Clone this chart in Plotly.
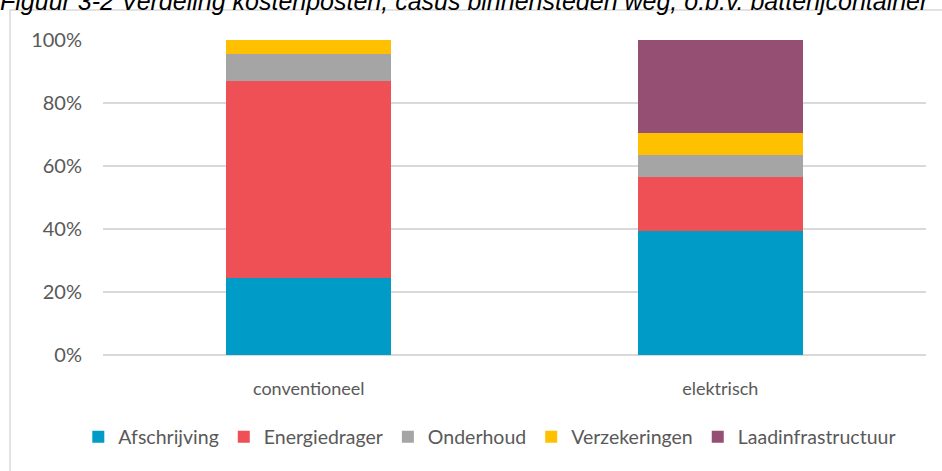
import plotly.graph_objects as go

categories = ["conventioneel", "elektrisch"]
afschrijving = [0.243, 0.395]
energiedrager = [0.628, 0.170]
onderhoud = [0.086, 0.070]
verzekeringen = [0.043, 0.069]
laadinfrastructuur = [0.0, 0.296]

series = [
    ("Afschrijving", afschrijving, "#009CC7"),
    ("Energiedrager", energiedrager, "#EF5055"),
    ("Onderhoud", onderhoud, "#A5A5A5"),
    ("Verzekeringen", verzekeringen, "#FFC000"),
    ("Laadinfrastructuur", laadinfrastructuur, "#954F72"),
]

fig = go.Figure()
for name, vals, col in series:
    fig.add_trace(go.Bar(x=categories, y=vals, name=name, marker_color=col,
                         marker_line_width=0, width=0.4))

font_fam = "Lato, Open Sans, sans-serif"
L, T, R, B = 103, 40, 16, 116
PW, PH = 942 - L - R, 471 - T - B
fig.update_layout(
    barmode="stack",
    width=942, height=471,
    margin=dict(l=L, r=R, t=T, b=B, autoexpand=False),
    paper_bgcolor="white", plot_bgcolor="white",
    font=dict(family=font_fam, color="#595959", size=18),
    showlegend=True,
    legend=dict(orientation="h", x=0.47, xanchor="center", y=(355 - 437) / PH, yanchor="middle",
                font=dict(size=19.5, color="#595959"), traceorder="normal",
                itemwidth=30, itemsizing="constant", tracegroupgap=0),
    xaxis=dict(showgrid=False, showline=False, ticks="", ticklabelstandoff=21,
               tickfont=dict(size=18, color="#595959")),
    yaxis=dict(range=[0, 1], tickvals=[0, 0.2, 0.4, 0.6, 0.8, 1.0], tickformat=".0%",
               showgrid=True, gridcolor="#D9D9D9", gridwidth=1.5, zeroline=True,
               zerolinecolor="#D9D9D9", zerolinewidth=1.5, showline=False,
               tickfont=dict(size=20, color="#595959"), ticks="", ticklabelstandoff=20),
)
fig.add_shape(type="rect", xref="paper", yref="paper",
              x0=(10 - L) / PW, x1=1.1, y0=-0.6, y1=1 + (T - 10) / PH,
              line=dict(color="#D9D9D9", width=1.5), fillcolor="rgba(0,0,0,0)", layer="below")
fig.add_annotation(text="Figuur 3-2 Verdeling kostenposten, casus binnensteden weg, o.b.v. batterijcontainer",
                   xref="paper", yref="paper", x=(-2 - L) / PW, xanchor="left",
                   y=1 + (T - 1) / PH, yanchor="middle", showarrow=False,
                   font=dict(family="Liberation Sans, Arial, sans-serif", size=25, color="#000000", style="italic"))
fig.write_html("out.html", config={"displayModeBar": False},
               post_script="document.body.style.margin='0';document.body.style.overflow='hidden';")
